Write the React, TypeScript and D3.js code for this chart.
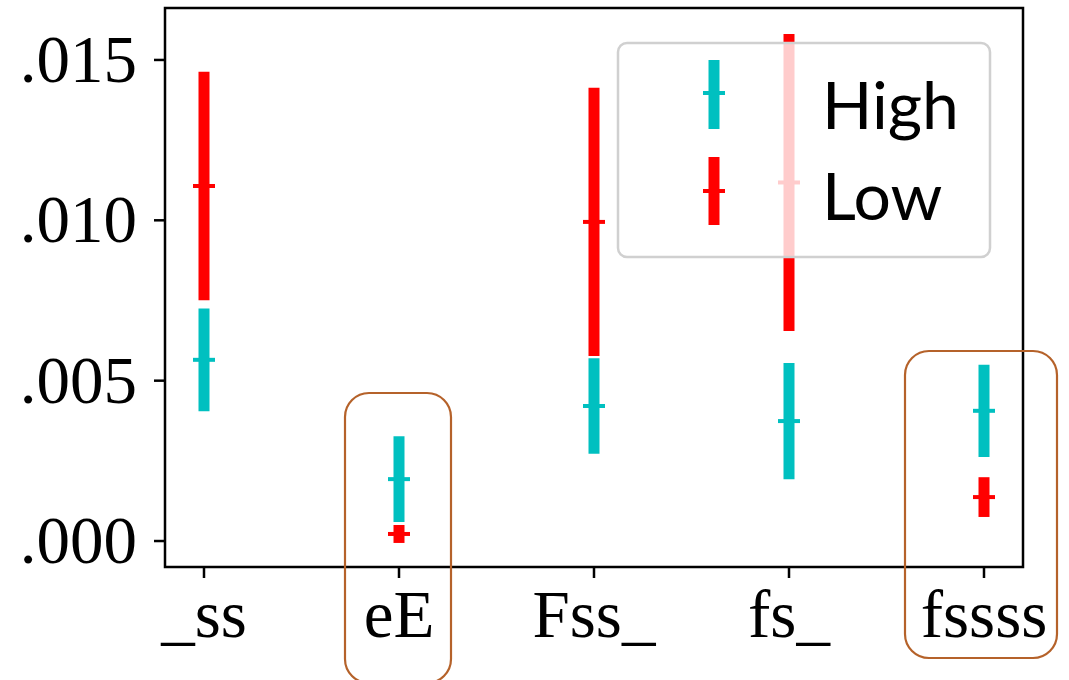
import React from 'react';
import * as d3 from 'd3';

// values
const categories = ['_ss', 'eE', 'Fss_', 'fs_', 'fssss'];
const highMean = [0.00565, 0.00193, 0.00421, 0.00374, 0.00406];
const highErr = [0.0016, 0.00134, 0.00149, 0.00181, 0.00144];
const lowMean = [0.01107, 0.00022, 0.00995, 0.01118, 0.00137];
const lowErr = [0.00356, 0.00028, 0.00418, 0.00463, 0.00062];
const yTicks = [0, 0.005, 0.01, 0.015];
const highlighted = ['eE', 'fssss'];

const HIGH = '#00c0c0';
const LOW = '#ff0000';
const BROWN = '#b5622a';
const serif = '"Liberation Serif", "Times New Roman", serif';

const width = 1069;
const height = 680;
const left = 165;
const right = 1023;
const top = 8;
const bottom = 567;

const x = d3.scaleLinear().domain([-0.2, 4.2]).range([left, right]);
const y = d3.scaleLinear().domain([-0.00081, 0.01662]).range([bottom, top]);
const fmt = (v: number) => d3.format('.3f')(v).replace(/^0/, '');

const ErrBar = ({ cx, mean, err, color }: { cx: number; mean: number; err: number; color: string }) => (
  <g>
    <line x1={cx} x2={cx} y1={y(mean + err)} y2={y(mean - err)} stroke={color} strokeWidth={11} />
    <line x1={cx - 11} x2={cx + 11} y1={y(mean)} y2={y(mean)} stroke={color} strokeWidth={4} />
  </g>
);

const App = () => {
  return (
    <svg
      width={width}
      height={height}
      style={{ position: 'absolute', left: 0, top: 0, background: '#fff' }}
    >
      {/* error bars */}
      {categories.map((c, i) => (
        <g key={c}>
          <ErrBar cx={x(i)} mean={highMean[i]} err={highErr[i]} color={HIGH} />
          <ErrBar cx={x(i)} mean={lowMean[i]} err={lowErr[i]} color={LOW} />
        </g>
      ))}

      {/* y axis */}
      {yTicks.map((t) => (
        <g key={t}>
          <line x1={left - 11} x2={left} y1={y(t)} y2={y(t)} stroke="#000" strokeWidth={2.5} />
          <text x={137} y={y(t) + 22} textAnchor="end" fontFamily={serif} fontSize={67} fill="#000">
            {fmt(t)}
          </text>
        </g>
      ))}

      {/* x axis */}
      {categories.map((c, i) => (
        <g key={c}>
          <line x1={x(i)} x2={x(i)} y1={bottom} y2={bottom + 11} stroke="#000" strokeWidth={2.5} />
          <text x={x(i)} y={637} textAnchor="middle" fontFamily={serif} fontSize={67} fill="#000">
            {c}
          </text>
        </g>
      ))}

      <rect x={left} y={top} width={right - left} height={bottom - top} fill="none" stroke="#000" strokeWidth={2.5} />

      {/* legend */}
      <g>
        <rect x={618} y={43} width={372} height={214} rx={9} fill="#fff" fillOpacity={0.8} stroke="#d0d0d0" strokeWidth={2.5} />
        <line x1={714} x2={714} y1={60} y2={129} stroke={HIGH} strokeWidth={11} />
        <line x1={703} x2={725} y1={93} y2={93} stroke={HIGH} strokeWidth={4} />
        <line x1={714} x2={714} y1={157} y2={225} stroke={LOW} strokeWidth={11} />
        <line x1={703} x2={725} y1={191} y2={191} stroke={LOW} strokeWidth={4} />
        <text x={822} y={129} fontFamily="Lato, sans-serif" fontSize={66} fill="#000">High</text>
        <text x={822} y={220} fontFamily="Lato, sans-serif" fontSize={66} fill="#000">Low</text>
      </g>

      {/* highlight boxes */}
      <rect x={x(categories.indexOf(highlighted[0])) - 54} y={393} width={106} height={290} rx={24}
        fill="none" stroke={BROWN} strokeWidth={2.2} />
      <rect x={x(categories.indexOf(highlighted[1])) - 79} y={351} width={152} height={307} rx={24}
        fill="none" stroke={BROWN} strokeWidth={2.2} />
    </svg>
  );
};

export default App;
